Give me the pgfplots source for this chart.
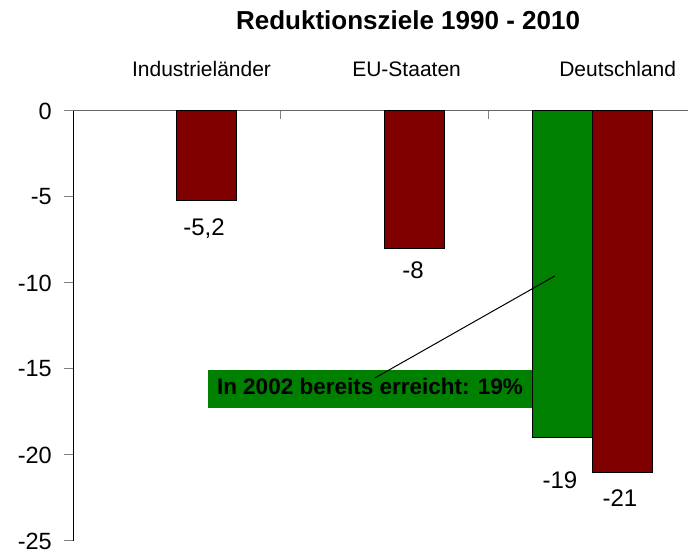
\documentclass[border=0pt]{standalone}
\usepackage{pgfplots}
\pgfplotsset{compat=1.18}
\usepackage{fontspec}
\setmainfont{Liberation Sans}
\definecolor{barred}{RGB}{128,0,0}
\definecolor{bargreen}{RGB}{0,128,0}
\begin{document}
\begin{tikzpicture}[x=1pt,y=1pt]
\useasboundingbox (0,0) rectangle (688,554);
\begin{axis}[
  at={(73pt,13pt)}, anchor=south west,
  scale only axis, width=615pt, height=430pt,
  xmin=-0.5, xmax=2.457, ymin=-25, ymax=0,
  axis x line=top, axis y line=left,
  axis line style={-},
  x axis line style={gray!80!black, line width=1pt},
  y axis line style={black, line width=1pt},
  xtick=\empty,
  ytick={-25,-20,-15,-10,-5,0},
  tick align=outside,
  major tick length=9pt,
  y tick style={gray, line width=1pt},
  yticklabel style={font=\fontsize{23.5}{28}\selectfont, inner sep=0pt, xshift=-12pt, anchor=east},
  /pgf/number format/assume math mode=true,
  clip=false,
]
% bars: reached value (green) and target values (dark red)
\addplot[ybar, bar width=60pt, bar shift=-30pt, fill=bargreen, draw=black, line width=1pt]
  coordinates {(2,-19)};
\addplot[ybar, bar width=60pt, bar shift=30pt, fill=barred, draw=black, line width=1pt]
  coordinates {(0,-5.2) (1,-8) (2,-21)};

% category separators on the top axis
\draw[gray, line width=1pt] (axis cs:0.5,0) -- (axis cs:0.5,-0.45);
\draw[gray, line width=1pt] (axis cs:1.5,0) -- (axis cs:1.5,-0.45);

% title and category names
\node[anchor=base, font=\fontsize{26}{30}\selectfont\bfseries] at (axis cs:1.111,4.71) {Reduktionsziele 1990 - 2010};
\node[anchor=base, font=\fontsize{21}{25}\selectfont] at (axis cs:0.118,2.03) {Industrieländer};
\node[anchor=base, font=\fontsize{21}{25}\selectfont] at (axis cs:1.104,2.03) {EU-Staaten};
\node[anchor=base, font=\fontsize{21}{25}\selectfont] at (axis cs:2.119,2.03) {Deutschland};

% value labels
\node[anchor=base, font=\fontsize{24}{28}\selectfont] at (axis cs:0.130,-7.21) {-5,2};
\node[anchor=base, font=\fontsize{24}{28}\selectfont] at (axis cs:1.135,-9.71) {-8};
\node[anchor=base, font=\fontsize{24}{28}\selectfont] at (axis cs:1.841,-21.92) {-19};
\node[anchor=base, font=\fontsize{24}{28}\selectfont] at (axis cs:2.130,-23.02) {-21};

% annotation box with pointer to the green bar
\fill[bargreen] (axis cs:0.149,-15.06) rectangle (axis cs:1.707,-17.27);
\draw[black, line width=1pt] (axis cs:0.952,-15.52) -- (axis cs:1.817,-9.59);
\node[anchor=base, font=\fontsize{22.5}{26}\selectfont\bfseries] at (axis cs:0.928,-16.51) {In 2002 bereits erreicht: 19\%};
\end{axis}
\end{tikzpicture}
\end{document}
